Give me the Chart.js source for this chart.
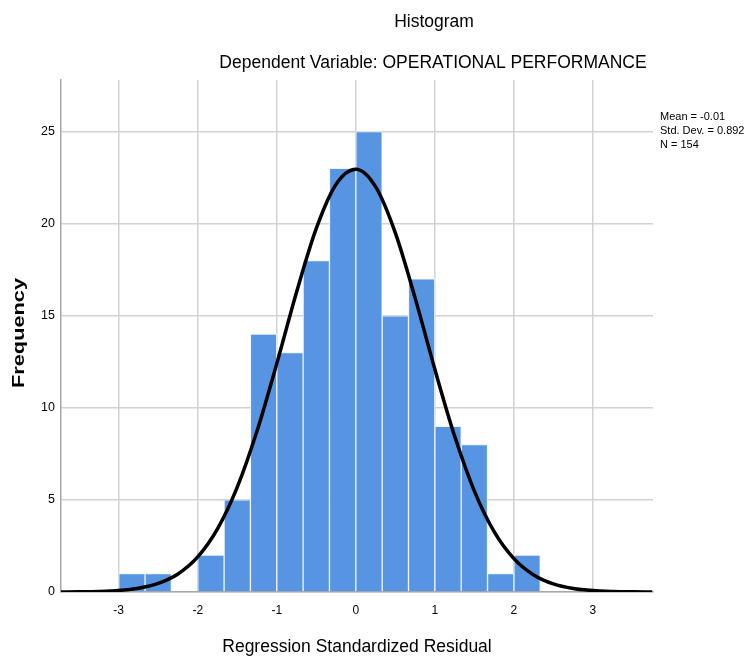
<!DOCTYPE html>
<html>
<head>
<meta charset="utf-8">
<script src="https://cdn.jsdelivr.net/npm/chart.js@4.4.1/dist/chart.umd.min.js"></script>
<style>
  html, body { margin: 0; padding: 0; background: #ffffff; }
  #wrap { width: 749px; height: 660px; }
</style>
</head>
<body>
<div id="wrap"><canvas id="c" width="749" height="660"></canvas></div>
<script>
// ---- data ----
const chartTitle = "Histogram";
const chartSubtitle = "Dependent Variable: OPERATIONAL PERFORMANCE";
const xAxisTitle = "Regression Standardized Residual";
const yAxisTitle = "Frequency";
const statsLines = ["Mean = -0.01", "Std. Dev. = 0.892", "N = 154"];

const binCenters = [-2.833, -2.5, -2.167, -1.833, -1.5, -1.167, -0.833, -0.5, -0.167, 0.167, 0.5, 0.833, 1.167, 1.5, 1.833, 2.167];
const frequencies = [1, 1, 0, 2, 5, 14, 13, 18, 23, 25, 15, 17, 9, 8, 1, 2];

const curveX = [-3.75, -3.5, -3.25, -3, -2.75, -2.5, -2.25, -2, -1.75, -1.5, -1.25, -1, -0.75, -0.5, -0.25, 0,
                0.25, 0.5, 0.75, 1, 1.25, 1.5, 1.75, 2, 2.25, 2.5, 2.75, 3, 3.25, 3.5, 3.75];
const curveY = [0.004, 0.011, 0.031, 0.083, 0.205, 0.467, 0.981, 1.906, 3.426, 5.69, 8.737, 12.40, 16.28, 19.74, 22.14, 22.96,
                22.01, 19.50, 15.97, 12.09, 8.466, 5.479, 3.278, 1.813, 0.927, 0.438, 0.191, 0.077, 0.029, 0.010, 0.003];

const xTickValues = [-3, -2, -1, 0, 1, 2, 3];
const yTickValues = [0, 5, 10, 15, 20, 25];

// ---- chart ----
const FONT = "'Liberation Sans', Arial, Helvetica, sans-serif";

const textPlugin = {
  id: 'texts',
  afterDraw(chart) {
    const ctx = chart.ctx;
    ctx.save();
    ctx.fillStyle = '#000000';
    ctx.textAlign = 'center';
    ctx.textBaseline = 'middle';
    ctx.font = "17.5px " + FONT;
    ctx.fillText(chartTitle, 434, 22);
    ctx.fillText(chartSubtitle, 433, 63);
    ctx.font = "17.5px " + FONT;
    ctx.fillText(xAxisTitle, 357, 647);

    // rotated y-axis title
    ctx.save();
    ctx.translate(19, 333);
    ctx.rotate(-Math.PI / 2);
    ctx.font = "bold 17px " + FONT;
    const w = ctx.measureText(yAxisTitle).width;
    const sx = 110 / w;
    ctx.scale(sx, 1);
    ctx.fillText(yAxisTitle, 0, 0);
    ctx.restore();

    // stats box
    ctx.textAlign = 'left';
    ctx.font = "11px " + FONT;
    statsLines.forEach((s, i) => ctx.fillText(s, 660, 117 + i * 14));
    ctx.restore();
  }
};

new Chart(document.getElementById('c'), {
  type: 'bar',
  data: {
    datasets: [
      {
        type: 'line',
        data: curveX.map((x, i) => ({ x: x, y: curveY[i] })),
        borderColor: '#000000',
        borderWidth: 3.5,
        pointRadius: 0,
        cubicInterpolationMode: 'monotone',
        fill: false,
        order: 0
      },
      {
        type: 'bar',
        data: binCenters.map((x, i) => ({ x: x, y: frequencies[i] })),
        backgroundColor: '#5795e3',
        borderColor: 'rgba(235,242,252,0.95)',
        borderWidth: 1,
        borderSkipped: 'start',
        barPercentage: 1.0,
        categoryPercentage: 1.0,
        order: 1
      }
    ]
  },
  options: {
    responsive: false,
    devicePixelRatio: 1,
    animation: false,
    layout: { padding: { top: 80, right: 96, bottom: 0, left: 0 } },
    plugins: {
      legend: { display: false },
      tooltip: { enabled: false },
      title: { display: false }
    },
    scales: {
      x: {
        type: 'linear',
        min: -3.73,
        max: 3.76,
        offset: false,
        afterFit(scale) { scale.height = 68; },
        afterBuildTicks(scale) { scale.ticks = xTickValues.map(v => ({ value: v })); },
        grid: { color: '#d2d2d2', lineWidth: 1.5, drawTicks: false, offset: false },
        border: { display: true, color: '#a8a8a8', width: 1.5 },
        ticks: {
          padding: 11,
          color: '#000000',
          font: { family: FONT, size: 12 },
          callback: v => String(v)
        }
      },
      y: {
        type: 'linear',
        min: 0,
        max: 27.8,
        afterFit(scale) { scale.width = 61; },
        afterBuildTicks(scale) { scale.ticks = yTickValues.map(v => ({ value: v })); },
        grid: { color: '#d2d2d2', lineWidth: 1.5, drawTicks: false },
        border: { display: true, color: '#a8a8a8', width: 1.5 },
        ticks: {
          padding: 6,
          color: '#000000',
          font: { family: FONT, size: 12.5 },
          callback: v => String(v)
        }
      }
    }
  },
  plugins: [textPlugin]
});
</script>
</body>
</html>
